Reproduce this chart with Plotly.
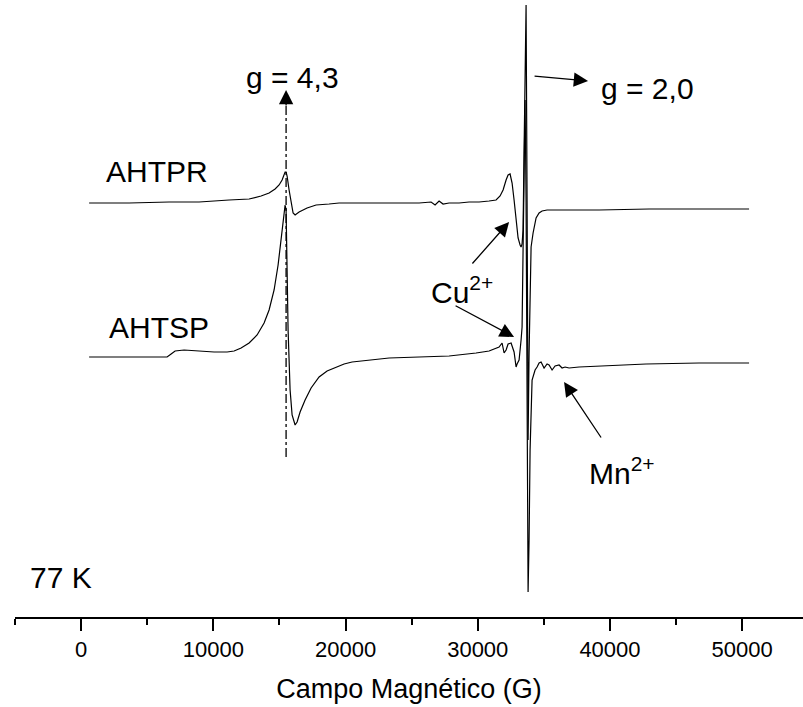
import plotly.graph_objects as go

# ---------------- data (field in G, intensity in a.u. relative to baseline) -------------
ahtpr_field = [605, 3630, 6655, 8924, 11193, 12706, 13613, 14218, 14672, 14975, 15202, 15429,
               15504, 15580, 15731, 15882, 16034, 16185, 16487, 17092, 17773, 18756, 19513,
               21781, 24050, 25563, 26471, 26773, 27076, 27378, 27832, 28588, 29344, 30101,
               30857, 31386, 31689, 31916, 32143, 32294, 32445, 32597, 32748, 32899, 33050,
               33202, 33277, 33353, 33428, 33504, 33580, 33655, 33731, 33807, 33882, 33958,
               34034, 34185, 34412, 34639, 34865, 35243, 36151, 39176, 42958, 46739, 50521]
ahtpr_int = [0, 0, 1, 1, 3, 4, 7, 10, 14, 18, 23, 31,
             31, 27, 13, 0, -10, -12, -9, -5, -2, -1, 0,
             0, 0, 0, 1, -2, 2, -1, 0, 0, 1, 1,
             2, 3, 7, 13, 23, 28, 29, 20, 3, -17, -35,
             -42, -44, -41, -27, 53, 143, 198, 0, -237, -150, -80,
             -44, -30, -15, -10, -8, -7, -7, -7, -6, -6, -6]

ahtsp_field = [605, 2874, 5143, 6504, 6807, 7109, 7790, 8924, 10059, 11042, 11571, 12101,
               12706, 13311, 13840, 14218, 14597, 14899, 15126, 15277, 15429, 15504, 15580,
               15655, 15807, 15958, 16185, 16336, 16563, 16941, 17395, 18000, 18605, 19286,
               19891, 20496, 21781, 23294, 25563, 27832, 29874, 30857, 31613, 31840, 31991,
               32143, 32294, 32521, 32748, 32899, 32975, 33126, 33277, 33353, 33428, 33504,
               33580, 33655, 33731, 33807, 33882, 33958, 34109, 34336, 34487, 34639, 34790,
               35017, 35243, 35395, 35622, 35849, 36151, 36378, 36605, 36907, 37664, 39176,
               40160, 42731, 46739, 50521]
ahtsp_int = [0, 0, 0, 0, 3, 6, 7, 6, 5, 5, 6, 9,
             14, 22, 34, 47, 67, 92, 117, 137, 152, 147, 97,
             27, -33, -58, -68, -65, -55, -43, -31, -20, -14, -10,
             -7, -5, -3, -1, 0, 1, 4, 6, 10, 14, 4,
             7, 13, 14, 5, -10, -7, -3, 17, 30, 107, 197,
             257, 157, -43, -235, -183, -93, -23, -13, -10, -6, -5,
             -11, -7, -8, -13, -9, -8, -11, -10, -11, -10, -9,
             -8, -7, -6, -6]

trace_offsets = {"AHTPR": 414, "AHTSP": 260}

x_tickvals = [0, 10000, 20000, 30000, 40000, 50000]
x_ticktext = ["0", "10000", "20000", "30000", "40000", "50000"]

FONT = "Liberation Sans, Arial, Helvetica, sans-serif"

fig = go.Figure()
for name, fx, iy in [("AHTPR", ahtpr_field, ahtpr_int), ("AHTSP", ahtsp_field, ahtsp_int)]:
    off = trace_offsets[name]
    fig.add_trace(go.Scatter(x=fx, y=[v + off for v in iy], mode="lines",
                             line=dict(color="black", width=1.2), name=name,
                             showlegend=False, hoverinfo="skip"))

# dash-dot marker of g = 4,3
g43_field = 15504
fig.add_shape(type="line", x0=g43_field, x1=g43_field, y0=160, y1=514,
              xref="x", yref="y", line=dict(color="black", width=1.3, dash="dashdot"))

anns = []
def text_ann(txt, x, y, size=30, xanchor="center"):
    anns.append(dict(text=txt, x=x, y=y, xref="x", yref="y", showarrow=False,
                     xanchor=xanchor, yanchor="middle", font=dict(family=FONT, size=size, color="black")))

def arrow_ann(x0, y0, x1, y1):
    anns.append(dict(text="", x=x1, y=y1, ax=x0, ay=y0, xref="x", yref="y",
                     axref="x", ayref="y", showarrow=True, arrowhead=2, arrowsize=2.2,
                     arrowwidth=1.3, arrowcolor="black", standoff=0, startstandoff=0))

text_ann("AHTPR", 5748, 446)
text_ann("AHTSP", 5899, 290)
text_ann("77 K", -1513, 40)
text_ann("g = 4,3", 15958, 540)
text_ann("g = 2,0", 39176, 529, xanchor="left")
text_ann("Cu<sup>2+</sup>", 26319, 327, xanchor="left")
text_ann("Mn<sup>2+</sup>", 38269, 146, xanchor="left")

arrow_ann(g43_field, 510, g43_field, 527)
arrow_ann(34185, 541, 38344, 536)
arrow_ann(29496, 352, 32370, 395)
arrow_ann(28210, 312, 32748, 280)
arrow_ann(39403, 178, 36529, 235)

fig.update_layout(
    width=803, height=707,
    margin=dict(l=15, r=0, t=0, b=90),
    paper_bgcolor="white", plot_bgcolor="white",
    annotations=anns,
    xaxis=dict(range=[-5000, 54600], showgrid=False, zeroline=False,
               showline=True, linecolor="black", linewidth=2,
               ticks="outside", ticklen=12, tickwidth=2, tickcolor="black",
               tickvals=x_tickvals, ticktext=x_ticktext,
               tickfont=dict(family=FONT, size=22, color="black"),
               minor=dict(ticks="outside", ticklen=6, tickwidth=2, tickcolor="black",
                          tickvals=[-5000, 5000, 15000, 25000, 35000, 45000]),
               title=dict(text="Campo Magnético (G)", font=dict(family=FONT, size=27, color="black"),
                          standoff=18)),
    yaxis=dict(range=[0, 617], visible=False, showgrid=False, zeroline=False),
)

fig.write_html("out.html", config={"displayModeBar": False},
               post_script="document.body.style.margin='0';document.body.style.padding='0';")
